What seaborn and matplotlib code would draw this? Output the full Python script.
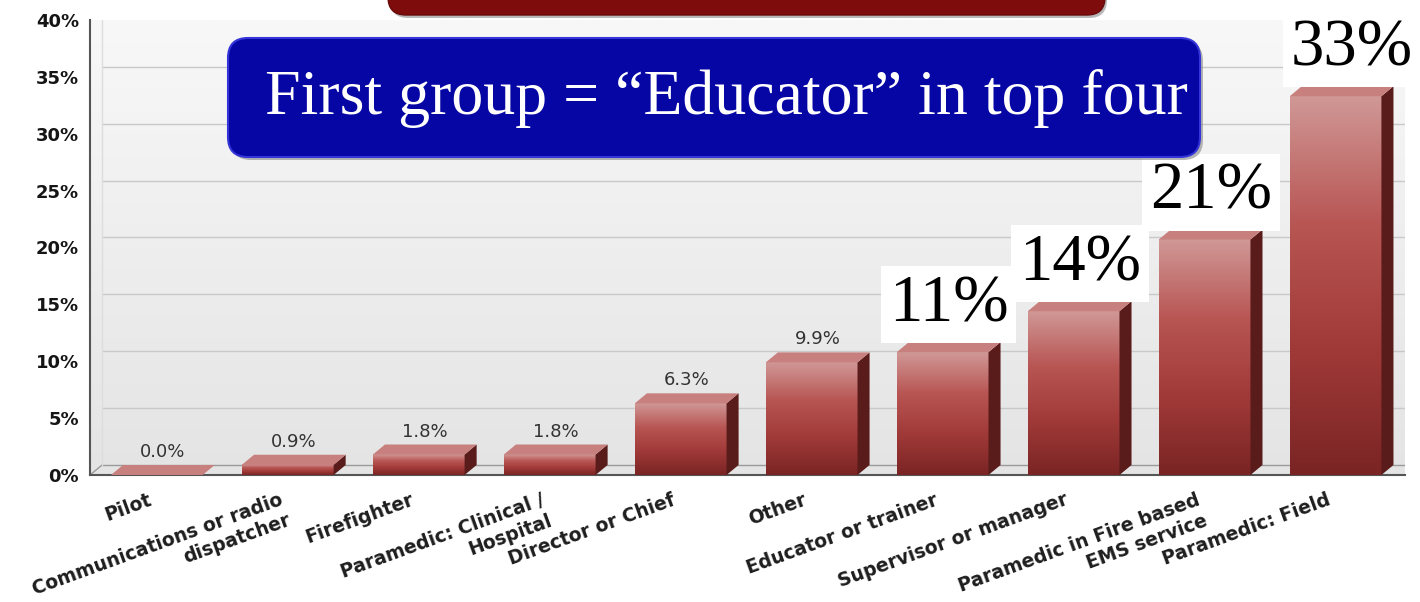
import numpy as np
import pandas as pd
import seaborn as sns
import matplotlib.pyplot as plt
from matplotlib.patches import Polygon, FancyBboxPatch
from matplotlib.colors import LinearSegmentedColormap
from matplotlib.transforms import ScaledTranslation

# data
categories = [
    "Pilot",
    "Communications or radio\ndispatcher",
    "Firefighter",
    "Paramedic: Clinical /\nHospital",
    "Director or Chief",
    "Other",
    "Educator or trainer",
    "Supervisor or manager",
    "Paramedic in Fire based\nEMS service",
    "Paramedic: Field",
]
percent = [0.0, 0.9, 1.8, 1.8, 6.3, 9.9, 10.8, 14.4, 20.7, 33.3]
value_labels = ["0.0%", "0.9%", "1.8%", "1.8%", "6.3%", "9.9%", "10.8%", "14.4%", "20.7%", "33.3%"]
callout_labels = ["11%", "14%", "21%", "33%"]   # big boxes over the last four bars
y_ticks = [0, 5, 10, 15, 20, 25, 30, 35, 40]
y_tick_labels = ["0%", "5%", "10%", "15%", "20%", "25%", "30%", "35%", "40%"]
headline = "First group = \u201cEducator\u201d in top four"

sns.set_style("white")
plt.rcParams["font.family"] = ["DejaVu Sans"]

W, H = 1420, 602
fig = plt.figure(figsize=(W / 100, H / 100), dpi=100)
fig.patch.set_facecolor("white")
ax = fig.add_axes([90 / W, (H - 475) / H, 1315 / W, 455 / H])

df = pd.DataFrame({"role": categories, "pct": percent})
sns.barplot(data=df, x="role", y="pct", order=categories, ax=ax,
            color="#a33a38", saturation=1, width=0.7, zorder=3)

xl, xr = -0.51, 9.53
dx, dy = 0.092, 0.88   # fake 3D depth

# plot-area background gradient
bg = np.linspace(0, 1, 256).reshape(-1, 1)
ax.imshow(bg, extent=[0, 1, 0, 1], transform=ax.transAxes, aspect="auto",
          cmap=LinearSegmentedColormap.from_list("bg", ["#e4e4e4", "#f8f8f8"]),
          origin="lower", zorder=0)

# back-wall gridlines and floor
for t in y_ticks[1:-1]:
    ax.plot([xl + dx, xr], [t + dy, t + dy], color="#c9c9c9", lw=1, zorder=1)
ax.plot([xl + dx, xr], [dy, dy], color="#9a9a9a", lw=1, zorder=1)
ax.plot([xl, xl + dx], [0, dy], color="#9a9a9a", lw=1, zorder=1)
ax.plot([xl + dx, xl + dx], [dy, 40], color="#dddddd", lw=1, zorder=1)

bar_cmap = LinearSegmentedColormap.from_list(
    "bar", ["#7a2424", "#a03a38", "#b85654", "#d09896"])
grad = np.linspace(0, 1, 256).reshape(-1, 1)

for i, p in enumerate(ax.patches):
    x0, w, h = p.get_x(), p.get_width(), p.get_height()
    p.set_facecolor("none")
    p.set_edgecolor("none")
    if h > 0:
        ax.imshow(grad, extent=[x0, x0 + w, 0, h], aspect="auto", cmap=bar_cmap,
                  origin="lower", zorder=3)
        side = Polygon([(x0 + w, 0), (x0 + w + dx, dy), (x0 + w + dx, h + dy), (x0 + w, h)],
                       closed=True, fc="#5a1b1b", ec="none", zorder=3)
        ax.add_patch(side)
    top = Polygon([(x0, h), (x0 + dx, h + dy), (x0 + w + dx, h + dy), (x0 + w, h)],
                  closed=True, fc="#c7807e", ec="none", zorder=3)
    ax.add_patch(top)
    ax.text(x0 + (w + dx) / 2, h + dy + 0.35, value_labels[i], ha="center", va="bottom",
            fontsize=13, color="#333333", zorder=4)

# big white callouts on the top four
n = len(categories)
callout_shift = [0, 0, 0, 10]   # px, the last one sits against the slide edge
for k, lab in enumerate(callout_labels):
    i = n - len(callout_labels) + k
    ax.annotate(lab, xy=(i + dx / 2, percent[i] + dy), xytext=(callout_shift[k] * 0.72, 5),
                textcoords="offset points",
                ha="center", va="bottom", fontsize=48, family="Liberation Serif", color="black",
                bbox=dict(boxstyle="square,pad=0.12", fc="white", ec="none"),
                zorder=10, annotation_clip=False)

ax.set_xlim(xl, xr)
ax.set_ylim(0, 40)
ax.set_yticks(y_ticks)
ax.set_yticklabels(y_tick_labels, fontweight="bold", fontsize=13, color="#151515")
ax.set_xticks(range(n))
ax.set_xticklabels(categories, rotation=20, ha="right", rotation_mode="anchor",
                   fontweight="bold", fontsize=13.5, color="#1e1e1e")
ax.set_xlabel("")
ax.set_ylabel("")
ax.tick_params(axis="both", length=5, width=1, color="#444444", direction="out")
ax.tick_params(axis="x", pad=6)
ax.tick_params(axis="y", pad=3)
# nudge the slanted labels left (after tick_params, which resets transforms)
shift = ScaledTranslation(-9 / 100, 0, fig.dpi_scale_trans)
for lab in ax.get_xticklabels():
    lab.set_multialignment("right")
    lab.set_transform(lab.get_transform() + shift)
for s in ["top", "right"]:
    ax.spines[s].set_visible(False)
for s in ["left", "bottom"]:
    ax.spines[s].set_color("#555555")
    ax.spines[s].set_linewidth(1.5)

# slide overlays in pixel coordinates
ov = fig.add_axes([0, 0, 1, 1], zorder=20)
ov.set_xlim(0, W)
ov.set_ylim(H, 0)
ov.axis("off")
ov.patch.set_visible(False)

red_shadow = FancyBboxPatch((390, -40), 717, 58, boxstyle="round,pad=0,rounding_size=18",
                            fc="#8a8a8a", ec="none", alpha=0.6)
ov.add_patch(red_shadow)
red = FancyBboxPatch((388, -40), 717, 55, boxstyle="round,pad=0,rounding_size=18",
                     fc="#7e0c0c", ec="#6a0a0a", lw=1)
ov.add_patch(red)

blue_shadow = FancyBboxPatch((231, 41), 972, 119, boxstyle="round,pad=0,rounding_size=20",
                             fc="#7a7a7a", ec="none", alpha=0.55)
ov.add_patch(blue_shadow)
blue = FancyBboxPatch((228, 38), 972, 119, boxstyle="round,pad=0,rounding_size=20",
                      fc="#0606a4", ec="#3434d8", lw=1.5)
ov.add_patch(blue)
bgrad = np.linspace(0, 1, 256).reshape(-1, 1)
im = ov.imshow(bgrad, extent=[228, 1200, 157, 38], aspect="auto",
               cmap=LinearSegmentedColormap.from_list(
                   "blue", ["#4040e4", "#1818c0", "#0808aa", "#0404a0", "#030396"]),
               origin="upper")
im.set_clip_path(blue)
ov.text(726, 99, headline, ha="center", va="center", fontsize=46,
        family="Liberation Serif", color="white")
ov.set_xlim(0, W)
ov.set_ylim(H, 0)

fig.savefig("out.png", dpi=100)
